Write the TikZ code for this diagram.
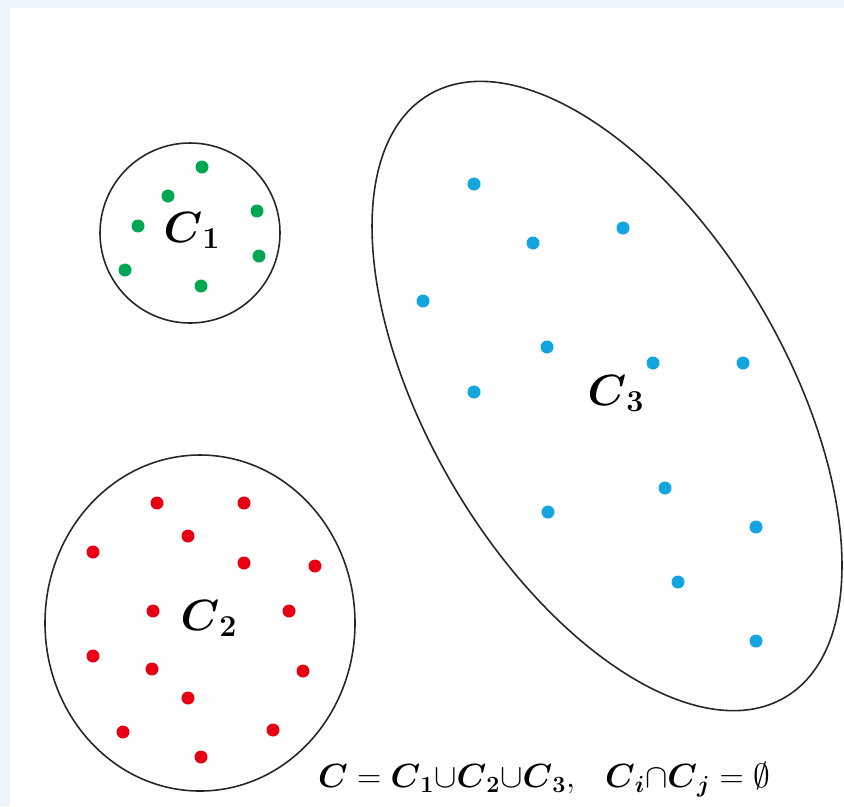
\documentclass[tikz,border=0pt]{standalone}
\usepackage{amsmath,amssymb}
\usepackage{graphicx}
\usepackage{tikz}
\definecolor{ptgreen}{HTML}{00A651}
\definecolor{ptred}{HTML}{E60012}
\definecolor{ptblue}{HTML}{12A5DF}
\definecolor{pageblue}{HTML}{EDF5FC}
\newcommand{\clus}[1]{\boldsymbol{C}_{#1}}

\begin{document}
\begin{tikzpicture}[x=0.02cm, y=-0.02cm, every node/.style={font=\fontsize{24}{28}\selectfont, anchor=base},
    ring/.style={draw=black!85, line width=0.9pt}]
  \useasboundingbox (0,0) rectangle (844,806);
  \fill[pageblue] (0,0) rectangle (844,806);
  \fill[white] (10,8) rectangle (844,806);
  \draw[ring] (190,233) circle (90);
  \draw[ring] (200,623) ellipse [x radius=155, y radius=168];
  \draw[ring, rotate around={-59.4:(607,396)}] (607,396) ellipse [x radius=350, y radius=178];
  \foreach \p in {(202,167),(168,196),(138,226),(125,270),(257,211),(259,256),(201,286)}
    \fill[ptgreen] \p circle (6.5);
  \foreach \p in {(157,503),(244,503),(188,536),(93,552),(244,563),(315,566),(153,611),(289,611),
                  (93,656),(152,669),(303,671),(188,698),(123,732),(273,730),(201,757)}
    \fill[ptred] \p circle (6.5);
  \foreach \p in {(474,184),(533,243),(623,228),(423,301),(547,347),(653,363),(743,363),(474,392),
                  (548,512),(665,488),(756,527),(678,582),(756,641)}
    \fill[ptblue] \p circle (6.5);
  \node (lblA) at (192,242) {$\clus{\mathbf 1}$};
  \node (lblB) at (209,630) {$\clus{\mathbf 2}$};
  \node (lblC) at (616,405) {$\clus{\mathbf 3}$};
  \node[font=\fontsize{20}{24}\selectfont] (union) at (544,787)
    {\scalebox{0.92}{$\boldsymbol{C}=\clus{\mathbf 1}{\cup}\clus{\mathbf 2}{\cup}\clus{\mathbf 3},\hspace{0.75em}\clus{\boldsymbol i}{\cap}\clus{\boldsymbol j}=\emptyset$}};
\end{tikzpicture}
\end{document}
